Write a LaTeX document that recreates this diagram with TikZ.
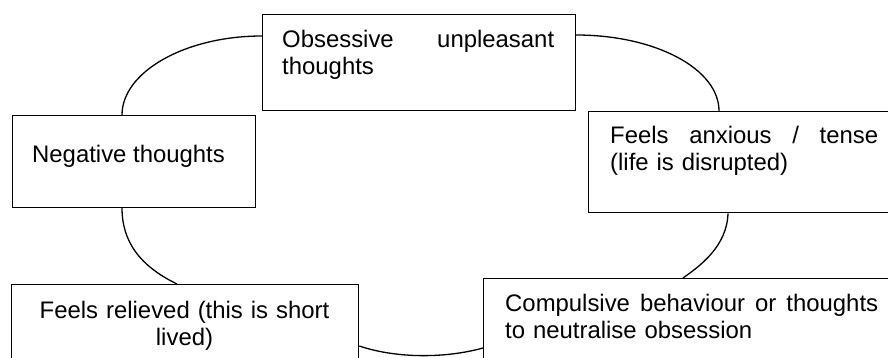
\documentclass[tikz,border=0pt]{standalone}
\usepackage{fontspec}
\setmainfont{Liberation Sans}
\usetikzlibrary{calc}
\tikzset{
  box/.style={draw, line width=1.3pt, fill=white, inner sep=0pt, anchor=north west},
  txt/.style={inner sep=0pt, font=\fontsize{23.9}{27}\selectfont, anchor=base west, align=left},
  link/.style={line width=1.3pt}
}
\begin{document}
\begin{tikzpicture}[x=1pt,y=1pt]
\useasboundingbox (0,0) rectangle (888,-358);
\clip (0,0) rectangle (888,-358);
\fill[white] (0,0) rectangle (888,-358);
% boxes
\node[box, minimum width=312.5pt, minimum height=96pt] (obs) at (262,-14) {};
\node[box, minimum width=243pt, minimum height=91.5pt] (neg) at (12,-115) {};
\node[box, minimum width=320pt, minimum height=101pt] (anx) at (588,-111) {};
\node[box, minimum width=347pt, minimum height=100pt] (rel) at (11,-284) {};
\node[box, minimum width=425pt, minimum height=100pt] (comp) at (483,-278) {};
% texts
\node[txt, text width=272pt] (tobs) at (282,-48) {\hbox to 272pt{Obsessive\hfill unpleasant}\\thoughts};
\node[txt] (tneg) at (32,-163) {Negative thoughts};
\node[txt, text width=268pt] (tanx) at (610,-144) {\hbox to 268pt{Feels\hfill anxious\hfill /\hfill tense}\\(life is disrupted)};
\node[txt, anchor=base, text width=340pt, align=center] (trel) at (184.5,-318) {Feels relieved (this is short\\lived)};
\node[txt, text width=373pt] (tcomp) at (505,-311) {\hbox to 373pt{Compulsive\hfill behaviour\hfill or\hfill thoughts}\\to neutralise obsession};
% connectors
\draw[link] ($(obs.north west)+(0,-22)$) .. controls +(-77,0) and +(0,43) .. ($(neg.north west)+(110,0)$);
\draw[link] ($(obs.north east)+(0,-21)$) .. controls +(80,0) and +(0,42) .. ($(anx.north west)+(131,0)$);
\draw[link] ($(anx.south west)+(140,0)$) .. controls +(-1,-33) and +(17,12) .. ($(comp.north west)+(200,0)$);
\draw[link] ($(rel.north east)+(0,-62)$) .. controls +(37,-12.5) and +(-38,-10.5) .. ($(comp.north west)+(0,-70)$);
\draw[link] ($(neg.south west)+(110,0)$) .. controls +(0,-34) and +(-37,18) .. ($(rel.north west)+(166,0)$);
\end{tikzpicture}
\end{document}
